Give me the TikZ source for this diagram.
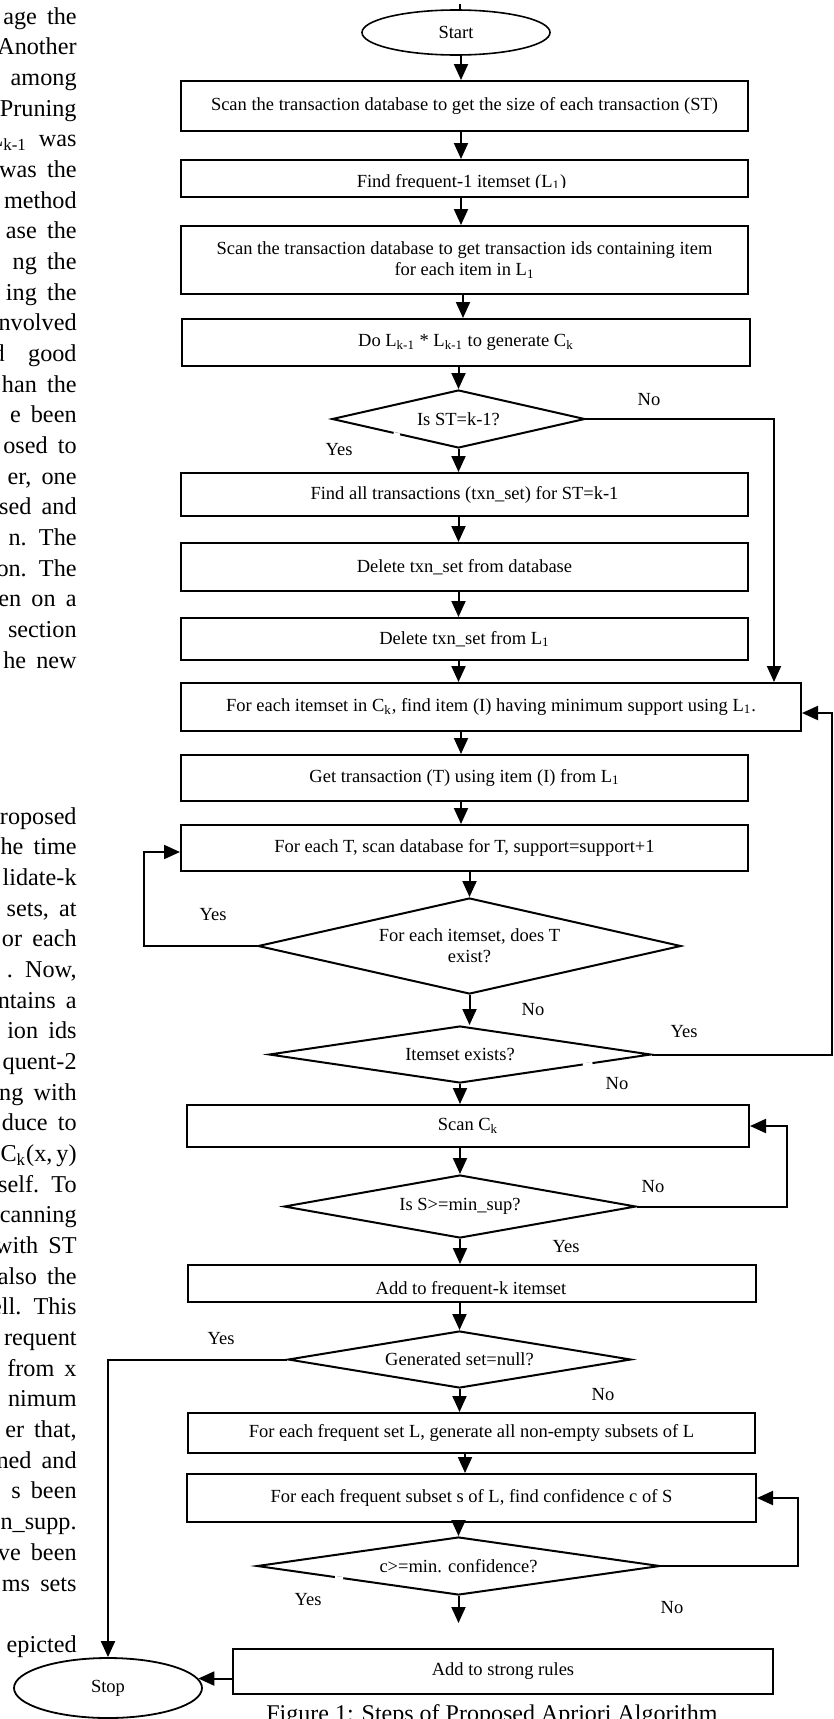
\documentclass[tikz,border=0pt]{standalone}
\usepackage{fontspec}
\setmainfont{Liberation Serif}
\usetikzlibrary{shapes.geometric,arrows.meta,calc}
\newcommand{\fcfont}{\fontsize{9.25}{10.5}\selectfont}
\newcommand{\bodyfont}{\fontsize{12.1}{14}\selectfont\spaceskip=0.42em plus 0.1em\relax}
\newcommand{\capfont}{\fontsize{12}{14}\selectfont}
\begin{document}
\begin{tikzpicture}[x=0.5pt,y=-0.5pt,
  box/.style={draw,rectangle,line width=1pt,inner sep=2pt,align=center,font=\fcfont},
  bx/.style 2 args={box,minimum width=#1*0.5pt,minimum height=#2*0.5pt},
  dia/.style={draw,diamond,line width=1pt,inner sep=0pt,align=center,font=\fcfont},
  dm/.style n args={3}{dia,minimum width=#1*0.5pt,minimum height=#2*0.5pt,shape aspect=#3},
  term/.style={draw,ellipse,line width=0.8pt,inner sep=0pt,font=\fcfont},
  arr/.style={line width=1pt,-{Triangle[width=7pt,length=8pt]}},
  lbl/.style={inner sep=0pt,font=\fcfont},
  gap/.style={white,line width=1.8pt},
  bodytxt/.style={anchor=base east,inner sep=0pt,font=\bodyfont}]
\useasboundingbox (0,0) rectangle (834,1719);
\fill[white] (0,0) rectangle (834,1719);

% left column text (cut off)
\foreach \t [count=\i from 0] in {{age the},{Another},{among},{Pruning},
  {L\textsubscript{k-1}\hspace{6pt}was},{was the},{method},{ase the},{ng the},{ing the},
  {nvolved},{good},{han the},{e been},{osed to},{er, one},{sed and},{n. The},
  {on. The},{en on a},{section},{he new}}
  \node[bodytxt] (up\i) at (77,{24+30.67*\i}) {\t};
\node[bodytxt] (up11b) at (5,{24+30.67*11}) {and};
\foreach \t [count=\i from 0] in {{roposed},{he time},{lidate-k},{sets, at},{or each},
  {. Now,},{ntains a},{ion ids},{quent-2},{ng with},{duce to},{C\textsubscript{k}(x,\,y)},
  {self. To},{canning},{with ST},{also the},{ell. This},{requent},{from x},{nimum},
  {er that,},{ned and},{s been},{n\_supp.},{ve been},{ms sets},{},{epicted}}
  \node[bodytxt] (lo\i) at (77,{824+30.68*\i}) {\t};

% flowchart
\node[term,minimum width=188*0.5pt,minimum height=45*0.5pt] (start) at (456,32.5) {Start};
\coordinate (topend) at (460,4);
\draw[line width=1pt] (topend) -- (topend |- start.north);

\node[bx={567}{50}] (b1) at (464.5,106) {Scan the transaction database to get the size of each transaction (ST)};
\node[bx={567}{37}] (b2) at (464.5,178.5) {};
\begin{scope}
\clip (181,150) rectangle (748,187.5);
\node[anchor=base,inner sep=0pt,font=\fcfont] (b2t) at (461.5,187) {Find frequent-1 itemset (L\textsubscript{1})};
\end{scope}
\node[bx={567}{68}] (b3) at (464.5,260) {Scan the transaction database to get transaction ids containing item\\for each item in L\textsubscript{1}};
\node[bx={568}{47}] (b4) at (466,342.5) {Do L\textsubscript{k-1} * L\textsubscript{k-1} to generate C\textsubscript{k}};
\node[dm={253}{58}{4.36}] (d1) at (458.5,419) {Is ST=k-1?};
\node[bx={567}{43}] (b5) at (464.5,494.5) {Find all transactions (txn\_set) for ST=k-1};
\node[bx={567}{48}] (b6) at (464.5,567) {Delete txn\_set from database};
\node[bx={567}{42}] (b7) at (464.5,639) {Delete txn\_set from L\textsubscript{1}};
\node[bx={620}{48}] (b8) at (491,707) {For each itemset in C\textsubscript{k}, find item (I) having minimum support using L\textsubscript{1}.};
\node[bx={567}{46}] (b9) at (464.5,778) {Get transaction (T) using item (I) from L\textsubscript{1}};
\node[bx={567}{46}] (b10) at (464.5,848) {For each T, scan database for T, support=support+1};
\node[dm={423}{96}{4.41}] (d2) at (469.5,946) {For each itemset, does T\\exist?};
\node[dm={382}{57}{6.7}] (d3) at (460,1054.5) {Itemset exists?};
\node[bx={562}{42}] (b11) at (468,1126) {Scan C\textsubscript{k}};
\node[dm={352}{63}{5.59}] (d4) at (460,1206.5) {Is S>=min\_sup?};
\node[bx={568}{37}] (b12) at (472,1283.5) {};
\begin{scope}
\clip (188,1260) rectangle (756,1294.5);
\node[anchor=base,inner sep=0pt,font=\fcfont] (b12t) at (471,1294) {Add to frequent-k itemset};
\end{scope}
\node[dm={343}{57}{6.02}] (d5) at (459.5,1359.5) {Generated set=null?};
\node[bx={567}{40}] (b13) at (471.5,1433) {For each frequent set L, generate all non-empty subsets of L};
\node[bx={569}{48}] (b14) at (471.5,1498) {For each frequent subset s of L, find confidence c of S};
\node[dm={403}{58}{6.95}] (d6) at (458.5,1566) {c>=min. confidence?};
\node[bx={540}{45}] (b15) at (503,1671.5) {Add to strong rules};
\node[term,line width=0.9pt,minimum width=188*0.5pt,minimum height=60*0.5pt] (stop) at (108,1688) {Stop};

\node[anchor=base,inner sep=0pt,font=\capfont] (cap) at (492,1721) {Figure 1: Steps of Proposed Apriori Algorithm};

% small breaks in the diamond outlines
\draw[gap] ($(d1.west)!0.49!(d1.south)$) -- ($(d1.west)!0.54!(d1.south)$);
\draw[gap] ($(d3.south)!0.64!(d3.east)$) -- ($(d3.south)!0.69!(d3.east)$);
\draw[gap] ($(d6.west)!0.39!(d6.south)$) -- ($(d6.west)!0.43!(d6.south)$);

% labels
\node[lbl] (n1) at (649,400) {No};
\node[lbl] (y1) at (339,450) {Yes};
\node[lbl] (y2) at (213,915) {Yes};
\node[lbl] (n2) at (533,1010) {No};
\node[lbl] (y3) at (684,1032) {Yes};
\node[lbl] (n3) at (617,1084) {No};
\node[lbl] (n4) at (653,1187) {No};
\node[lbl] (y4) at (566,1247) {Yes};
\node[lbl] (y5) at (221,1339) {Yes};
\node[lbl] (n5) at (603,1395) {No};
\node[lbl] (y6) at (308,1600) {Yes};
\node[lbl] (n6) at (672,1608) {No};

% main arrows
\coordinate (ax) at (461,0);
\draw[arr] (start.south -| ax) -- (b1.north -| ax);
\draw[arr] (b1.south -| ax) -- (b2.north -| ax);
\draw[arr] (b2.south -| ax) -- (b3.north -| ax);
\coordinate (ax1) at (463,0);
\draw[arr] (b3.south -| ax1) -- (b4.north -| ax1);
\draw[arr] (b4.south -| d1.north) -- (d1.north);
\draw[arr] (d1.south) -- (d1.south |- b5.north);
\draw[arr] (b5.south -| d1.south) -- (b6.north -| d1.south);
\draw[arr] (b6.south -| d1.south) -- (b7.north -| d1.south);
\draw[arr] (b7.south -| d1.south) -- (b8.north -| d1.south);
\draw[arr] (b8.south -| ax) -- (b9.north -| ax);
\draw[arr] (b9.south -| ax) -- (b10.north -| ax);
\draw[arr] (b10.south -| d2.north) -- (d2.north);
\draw[arr] (d2.south) -- (d2.south |- d3.north);
\draw[arr] (d3.south) -- (d3.south |- b11.north);
\draw[arr] (b11.south -| d4.north) -- (d4.north);
\draw[arr] (d4.south) -- (d4.south |- b12.north);
\draw[arr] (b12.south -| d5.north) -- (d5.north);
\draw[arr] (d5.south) -- (d5.south |- b13.north);
\coordinate (ax2) at (465,0);
\draw[arr] (b13.south -| ax2) -- (b14.north -| ax2);
\draw[arr] (b14.south -| d6.north) -- (d6.north);
\coordinate (d6end) at (463,1623);
\draw[arr] (d6.south) -- (d6.south |- d6end);
\draw[arr] (b15.west |- stop.6) -- (stop.6);

% loops
\coordinate (b8in) at ([yshift=-3pt]b8.east);
\coordinate (b10in) at ([yshift=-2pt]b10.west);
\coordinate (cx1) at (774,0);
\draw[arr] (d1.east) -| (cx1 |- b8.north);
\coordinate (cx2) at (832,0);
\draw[arr] (d3.east) -| (cx2 |- b8in) -- (b8in);
\coordinate (cx3) at (144,0);
\draw[arr] (d2.west) -| (cx3 |- b10in) -- (b10in);
\coordinate (cx4) at (787,0);
\draw[arr] (d4.east) -| (cx4 |- b11.east) -- (b11.east);
\draw[arr] (d5.west) -| (stop.north);
\coordinate (cx6) at (798,0);
\draw[arr] (d6.east) -| (cx6 |- b14.east) -- (b14.east);
\end{tikzpicture}
\end{document}
